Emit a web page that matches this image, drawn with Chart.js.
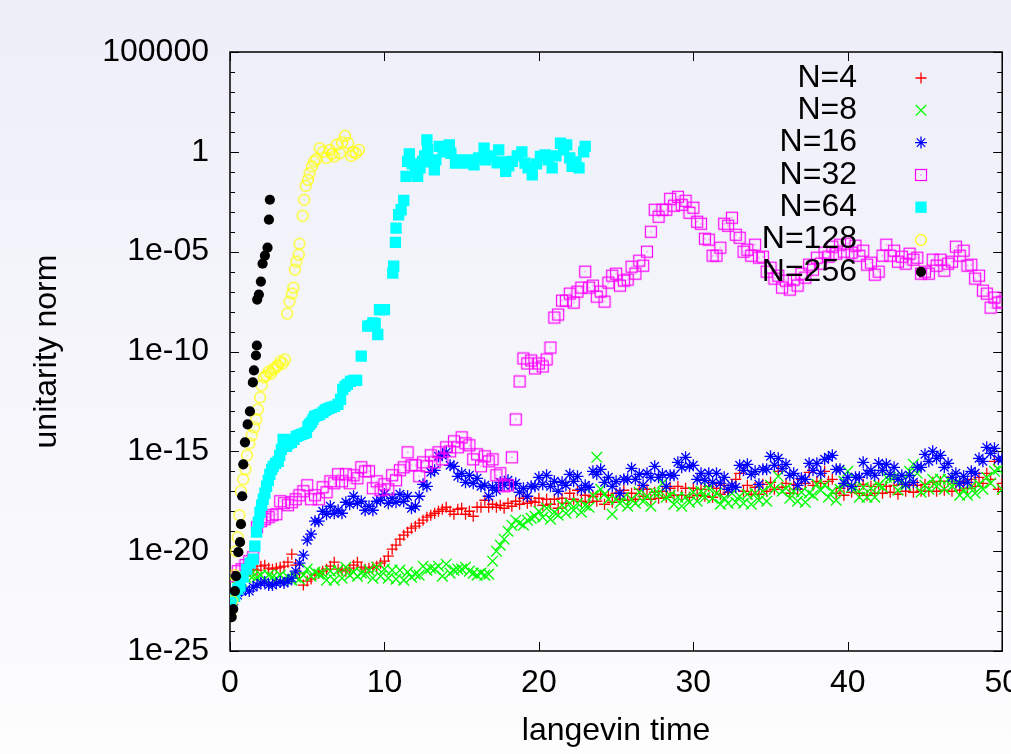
<!DOCTYPE html>
<html>
<head>
<meta charset="utf-8">
<title>unitarity norm vs langevin time</title>
<script src="https://cdn.jsdelivr.net/npm/chart.js"></script>
<style>
  html, body { margin: 0; padding: 0; background: #fff; }
  #wrap { width: 1011px; height: 754px; }
</style>
</head>
<body>
<div id="wrap"><canvas id="c" width="1011" height="754"></canvas></div>
<script>
/* globals Chart */

// langevin time grid shared by N=4..32
var timeGrid = [
  0, 0.25, 0.5, 0.75, 1, 1.25, 1.5, 1.75, 2, 2.25, 2.5, 2.75, 3, 3.25, 3.5, 3.75, 4, 4.25, 4.5, 4.75,
  5, 5.25, 5.5, 5.75, 6, 6.25, 6.5, 6.75, 7, 7.25, 7.5, 7.75, 8, 8.25, 8.5, 8.75, 9, 9.25, 9.5, 9.75,
  10, 10.25, 10.5, 10.75, 11, 11.25, 11.5, 11.75, 12, 12.25, 12.5, 12.75, 13, 13.25, 13.5, 13.75, 14, 14.25, 14.5, 14.75,
  15, 15.25, 15.5, 15.75, 16, 16.25, 16.5, 16.75, 17, 17.25, 17.5, 17.75, 18, 18.25, 18.5, 18.75, 19, 19.25, 19.5, 19.75,
  20, 20.25, 20.5, 20.75, 21, 21.25, 21.5, 21.75, 22, 22.25, 22.5, 22.75, 23, 23.25, 23.5, 23.75, 24, 24.25, 24.5, 24.75,
  25, 25.25, 25.5, 25.75, 26, 26.25, 26.5, 26.75, 27, 27.25, 27.5, 27.75, 28, 28.25, 28.5, 28.75, 29, 29.25, 29.5, 29.75,
  30, 30.25, 30.5, 30.75, 31, 31.25, 31.5, 31.75, 32, 32.25, 32.5, 32.75, 33, 33.25, 33.5, 33.75, 34, 34.25, 34.5, 34.75,
  35, 35.25, 35.5, 35.75, 36, 36.25, 36.5, 36.75, 37, 37.25, 37.5, 37.75, 38, 38.25, 38.5, 38.75, 39, 39.25, 39.5, 39.75,
  40, 40.25, 40.5, 40.75, 41, 41.25, 41.5, 41.75, 42, 42.25, 42.5, 42.75, 43, 43.25, 43.5, 43.75, 44, 44.25, 44.5, 44.75,
  45, 45.25, 45.5, 45.75, 46, 46.25, 46.5, 46.75, 47, 47.25, 47.5, 47.75, 48, 48.25, 48.5, 48.75, 49, 49.25, 49.5, 49.75,
  50
];

// log10(unitarity norm), one value per timeGrid entry
var n4Log = [
  -22.8, -22.3, -21.8, -21.4, -21.2, -21.0, -20.9, -20.95, -20.75, -20.7, -20.85, -20.9, -20.85, -20.8, -20.75, -20.55, -20.15, -20.7, -21.1, -21.7,
  -21.5, -21.4, -21.2, -21.1, -21.0, -20.9, -20.75, -20.55, -20.9, -20.95, -21.0, -20.85, -20.7, -20.55, -20.8, -20.9, -20.85, -20.8, -20.75, -20.6,
  -20.5, -20.25, -19.9, -19.7, -19.4, -19.2, -19.05, -18.85, -18.75, -18.6, -18.45, -18.3, -18.2, -18.1, -18.0, -17.9, -17.8, -18.0, -18.15, -17.9,
  -17.85, -18.15, -18.0, -18.25, -17.8, -17.8, -17.45, -17.8, -17.65, -17.8, -17.7, -17.85, -17.6, -17.75, -17.5, -17.65, -17.35, -17.6, -17.5, -17.55,
  -17.35, -17.7, -17.4, -17.65, -17.4, -17.85, -17.35, -17.6, -17.1, -17.4, -16.95, -17.5, -17.2, -17.55, -17.25, -17.5, -17.15, -17.65, -17.2, -17.55,
  -17.1, -17.4, -16.95, -17.45, -17.1, -17.4, -16.9, -17.25, -16.9, -17.4, -17.05, -17.35, -17.0, -17.3, -16.85, -17.2, -16.75, -17.2, -16.85, -17.3,
  -16.85, -17.2, -16.9, -17.25, -16.75, -17.3, -16.85, -17.15, -16.7, -17.05, -16.7, -16.4, -16.1, -17.0, -16.7, -17.15, -16.8, -17.15, -16.65, -17.0,
  -16.55, -16.9, -16.0, -16.8, -16.6, -17.1, -16.65, -16.9, -16.4, -16.6, -16.05, -16.7, -16.5, -16.6, -16.0, -16.5, -16.4, -17.1, -16.85, -17.2,
  -16.7, -17.05, -16.75, -17.1, -16.65, -17.2, -16.75, -17.1, -16.65, -17.1, -16.75, -17.05, -16.7, -17.15, -16.65, -17.0, -16.7, -17.05, -16.7, -17.0,
  -16.65, -17.0, -16.55, -17.0, -16.5, -16.95, -16.5, -17.0, -16.6, -16.95, -16.5, -16.85, -16.4, -16.75, -16.3, -16.6, -16.1, -16.4, -15.5, -16.9,
  -16.6
];

var n8Log = [
  -22.6, -22.2, -21.8, -21.5, -21.3, -21.2, -21.25, -21.3, -21.2, -21.4, -21.2, -21.3, -21.35, -21.2, -21.4, -21.3, -21.45, -21.3, -21.4, -21.2,
  -20.9, -21.25, -21.05, -21.15, -21.1, -21.45, -21.0, -21.45, -20.95, -21.35, -20.8, -21.2, -21.05, -21.25, -21.1, -21.15, -20.95, -21.35, -20.8, -21.25,
  -20.9, -21.35, -20.95, -21.4, -20.95, -21.45, -21.05, -21.3, -21.15, -21.2, -20.75, -20.95, -20.85, -20.9, -20.75, -21.25, -20.65, -21.1, -20.95, -20.9,
  -20.9, -20.8, -21.0, -21.1, -21.2, -21.1, -21.2, -21.15, -20.5, -20.0, -19.7, -19.4, -19.0, -18.7, -18.45, -18.6, -18.7, -18.45, -18.35, -18.25,
  -18.0, -18.3, -17.85, -18.4, -18.05, -18.2, -17.7, -18.1, -17.6, -17.95, -17.6, -18.05, -17.7, -17.8, -17.2, -15.3, -16.9, -17.15, -17.4, -18.15,
  -17.4, -17.6, -17.3, -17.75, -17.4, -17.6, -17.05, -17.5, -17.25, -17.75, -17.1, -17.1, -16.6, -17.3, -17.2, -17.65, -17.3, -17.75, -17.3, -17.55,
  -17.05, -17.5, -17.0, -17.3, -16.85, -17.35, -17.1, -17.65, -17.35, -17.6, -17.1, -17.55, -17.25, -17.6, -17.15, -17.65, -17.1, -17.45, -17.0, -17.5,
  -16.7, -16.9, -16.25, -17.0, -16.85, -17.35, -17.0, -17.5, -17.05, -17.55, -17.1, -17.2, -16.65, -16.95, -16.7, -17.3, -17.0, -17.45, -16.9, -16.5,
  -16.0, -16.8, -16.85, -17.3, -16.8, -17.3, -16.85, -17.3, -16.7, -16.8, -16.3, -16.3, -16.3, -16.95, -16.5, -16.7, -16.0, -15.65, -16.1, -17.05,
  -16.7, -16.9, -16.4, -16.75, -16.4, -16.9, -16.4, -16.75, -16.6, -17.2, -16.95, -17.2, -16.75, -17.1, -16.65, -16.9, -16.3, -16.6, -16.0, -15.9,
  -16.9
];

var n16Log = [
  -22.9, -22.5, -22.2, -22.0, -21.95, -22.0, -21.8, -21.7, -21.6, -21.55, -21.7, -21.7, -21.6, -21.55, -21.6, -21.5, -21.35, -21.0, -20.6, -20.2,
  -19.45, -19.15, -18.5, -18.5, -18.0, -18.15, -17.75, -18.1, -17.95, -18.1, -17.55, -17.65, -17.25, -17.6, -17.5, -17.95, -17.75, -17.95, -17.5, -17.45,
  -17.15, -17.6, -17.35, -17.55, -17.15, -17.5, -17.25, -17.85, -17.75, -17.25, -16.65, -16.75, -16.05, -15.95, -15.25, -15.2, -15.05, -15.7, -15.75, -16.25,
  -16.1, -16.55, -16.2, -16.6, -16.35, -16.75, -16.7, -17.25, -16.8, -16.95, -16.55, -16.7, -16.45, -16.7, -16.6, -17.05, -16.85, -17.25, -16.75, -16.75,
  -16.3, -16.65, -16.2, -16.75, -16.5, -17.0, -16.55, -16.7, -16.15, -16.5, -16.25, -16.9, -16.7, -16.8, -16.0, -16.15, -15.9, -16.55, -16.3, -16.75,
  -16.5, -17.1, -16.4, -16.4, -15.85, -16.4, -16.15, -16.7, -16.1, -16.3, -15.75, -16.3, -16.15, -16.75, -16.2, -16.2, -15.55, -15.8, -15.3, -15.75,
  -15.7, -16.4, -16.1, -16.45, -16.1, -16.55, -16.1, -16.6, -16.3, -16.9, -16.7, -16.8, -15.7, -15.95, -15.65, -16.15, -16.0, -16.65, -15.9, -15.9,
  -15.25, -15.7, -15.35, -15.85, -15.65, -16.2, -16.1, -16.7, -16.35, -16.4, -15.6, -15.95, -15.6, -16.1, -15.4, -15.3, -15.2, -15.9, -15.9, -16.6,
  -16.3, -16.75, -16.3, -16.3, -15.55, -16.1, -15.95, -16.2, -15.6, -15.95, -15.65, -16.15, -15.8, -16.4, -16.2, -16.65, -16.2, -16.55, -15.8, -15.8,
  -15.15, -15.5, -15.0, -15.35, -15.2, -15.8, -15.6, -16.3, -16.1, -16.6, -16.25, -16.55, -16.0, -16.1, -15.35, -15.5, -14.8, -15.1, -14.85, -15.4,
  -15.4
];

var n32Log = [
  -22.7, -21.8, -21.0, -20.9, -20.7, -20.5, -20.3, -18.8, -18.5, -18.4, -18.3, -18.2, -18.15, -17.5, -17.6, -17.7, -17.55, -17.4, -17.2, -17.0,
  -16.7, -17.4, -17.2, -17.4, -16.8, -17.05, -16.5, -16.6, -16.15, -16.5, -16.15, -16.6, -16.2, -16.35, -15.8, -16.0, -16.0, -16.85, -16.5, -16.95,
  -16.65, -16.9, -16.2, -16.45, -15.95, -15.8, -15.05, -15.7, -15.7, -16.25, -15.55, -15.75, -15.2, -15.55, -15.05, -15.4, -14.8, -15.0, -14.5, -14.8,
  -14.3, -14.6, -14.7, -15.4, -15.15, -15.75, -15.25, -15.5, -15.4, -16.2, -16.1, -16.75, -16.7, -15.3, -13.4, -11.5, -10.35, -10.6, -10.45, -10.85,
  -10.6, -10.75, -10.4, -9.8, -8.3, -8.15, -7.45, -7.45, -7.1, -7.55, -7.0, -6.8, -6.0, -6.8, -6.7, -7.25, -7.0, -7.5, -6.55, -6.2,
  -6.1, -6.7, -6.45, -6.4, -5.75, -6.1, -5.45, -5.7, -5.0, -4.0, -2.9, -3.25, -2.9, -2.9, -2.35, -2.7, -2.25, -2.65, -2.45, -3.05,
  -2.8, -3.5, -3.6, -4.35, -4.4, -5.2, -5.2, -4.8, -3.6, -3.7, -3.3, -4.15, -4.3, -5.0, -4.9, -5.2, -4.65, -5.3, -5.25, -6.0,
  -5.8, -6.35, -6.2, -6.8, -6.45, -6.9, -6.4, -6.7, -6.1, -6.3, -5.65, -5.9, -5.3, -5.6, -5.05, -5.25, -4.75, -5.1, -4.65, -5.0,
  -4.6, -5.05, -4.7, -5.2, -4.95, -5.65, -5.55, -6.15, -6.0, -5.2, -4.65, -5.2, -4.95, -5.5, -5.25, -5.6, -5.1, -5.4, -5.3, -6.1,
  -6.0, -6.1, -5.4, -5.7, -5.4, -5.95, -5.6, -5.5, -4.75, -5.2, -4.95, -5.7, -5.65, -6.35, -6.2, -6.95, -7.1, -7.8, -7.3, -7.55,
  -7.5
];

// [langevin time, log10(unitarity norm)] for the runs with their own sampling
var n64Pts = [
  [0.0, -22.9], [0.1, -22.6], [0.3, -22.25], [0.5, -21.9], [0.65, -21.75], [0.85, -21.3], [1.08, -20.9], [1.3, -20.6],
  [1.5, -20.4], [1.61, -19.75], [1.72, -19.05], [1.83, -18.55], [1.94, -18.05], [2.05, -17.7], [2.15, -17.4], [2.26, -17.1],
  [2.37, -16.75], [2.48, -16.45], [2.58, -16.15], [2.7, -15.9], [2.8, -15.75], [2.95, -15.6], [3.12, -15.5], [3.22, -15.2],
  [3.33, -14.9], [3.44, -14.4], [3.55, -14.6], [3.66, -14.75], [3.8, -14.6], [3.98, -14.55], [4.15, -14.4], [4.3, -14.25],
  [4.45, -14.2], [4.63, -14.15], [4.8, -14.1], [4.95, -14.05], [5.05, -13.75], [5.15, -13.65], [5.27, -13.55], [5.38, -13.4],
  [5.48, -13.25], [5.65, -13.2], [5.8, -13.15], [6.02, -13.05], [6.15, -12.95], [6.24, -12.9], [6.4, -12.85], [6.56, -12.8],
  [6.77, -12.75], [6.99, -12.65], [7.16, -12.4], [7.3, -11.9], [7.45, -11.75], [7.6, -11.65], [7.8, -11.5], [8.0, -11.45],
  [8.2, -11.45], [8.5, -10.23], [8.92, -8.73], [9.1, -8.7], [9.25, -8.57], [9.4, -8.6], [9.57, -9.15], [9.68, -7.9],
  [9.85, -7.9], [10.0, -7.9], [10.54, -6.07], [10.6, -5.73], [10.71, -4.53], [10.75, -3.82], [10.92, -3.15], [11.08, -2.9],
  [11.25, -2.43], [11.4, -1.23], [11.5, -0.48], [11.61, -0.1], [11.8, -0.6], [12.0, -1.0], [12.15, -1.23], [12.3, -0.8],
  [12.47, -0.48], [12.6, -0.2], [12.75, 0.6], [12.8, 0.1], [13.0, -0.5], [13.23, -0.9], [13.33, -0.4], [13.55, 0.27],
  [13.8, 0.0], [14.0, 0.2], [14.2, 0.35], [14.3, -0.07], [14.6, -0.57], [14.9, -0.4], [15.27, -0.57], [15.5, -0.4],
  [15.8, -0.65], [16.1, -0.3], [16.45, 0.18], [16.56, -0.4], [16.9, -0.2], [17.3, -0.55], [17.4, 0.1], [17.6, -0.5],
  [17.85, -0.98], [18.05, -0.7], [18.28, -0.48], [18.6, -0.2], [18.9, 0.0], [19.1, -0.57], [19.3, -0.8], [19.57, -1.15],
  [19.85, -0.6], [20.1, -0.23], [20.4, -0.15], [20.6, -0.4], [20.86, -0.8], [21.1, -0.2], [21.4, 0.43], [21.6, 0.1],
  [21.8, 0.35], [22.0, -0.3], [22.15, -0.73], [22.4, -0.5], [22.6, -0.8], [22.9, 0.0], [23.0, 0.27]
];

var n128Pts = [
  [0.05, -23.0], [0.15, -22.5], [0.3, -21.2], [0.4, -20.0], [0.5, -19.3], [0.6, -18.2], [0.7, -17.0], [0.85, -16.4],
  [1.0, -15.9], [1.1, -15.2], [1.25, -14.6], [1.4, -14.2], [1.55, -13.8], [1.7, -13.4], [1.8, -12.9], [1.95, -12.3],
  [2.05, -11.7], [2.2, -11.3], [2.35, -11.2], [2.5, -11.0], [2.65, -11.1], [2.8, -10.9], [2.95, -10.8], [3.1, -10.7],
  [3.25, -10.5], [3.4, -10.6], [3.55, -10.4], [3.7, -8.1], [3.85, -7.5], [4.0, -7.1], [4.1, -6.8], [4.2, -5.9],
  [4.3, -5.5], [4.45, -5.15], [4.5, -4.6], [4.7, -3.2], [4.8, -2.4], [4.9, -1.7], [5.05, -1.4], [5.15, -1.07],
  [5.3, -0.73], [5.45, -0.48], [5.6, -0.37], [5.8, 0.18], [6.0, 0.0], [6.25, -0.3], [6.45, 0.1], [6.6, -0.1],
  [6.75, -0.23], [6.9, 0.35], [7.1, -0.07], [7.25, 0.47], [7.45, 0.8], [7.65, 0.43], [7.85, -0.2], [7.95, 0.0],
  [8.15, -0.07], [8.35, 0.1]
];

var n256Pts = [
  [0.11, -23.3], [0.21, -22.9], [0.32, -22.0], [0.39, -21.25], [0.54, -20.05], [0.65, -19.55], [0.71, -18.65], [0.79, -17.25],
  [0.86, -15.65], [0.97, -14.55], [1.14, -13.65], [1.29, -13.0], [1.48, -11.55], [1.55, -10.95], [1.68, -10.2], [1.74, -9.7],
  [1.76, -7.4], [1.87, -7.15], [2.0, -6.5], [2.11, -5.6], [2.26, -5.2], [2.43, -4.8], [2.52, -3.4], [2.58, -2.4]
];

var seriesLabels = ['N=4', 'N=8', 'N=16', 'N=32', 'N=64', 'N=128', 'N=256'];
var xTickValues = [0, 10, 20, 30, 40, 50];
var yTickValues = [1e-25, 1e-20, 1e-15, 1e-10, 1e-5, 1, 1e5];
var yTickLabels = ['1e-25', '1e-20', '1e-15', '1e-10', '1e-05', '1', '100000'];

var FONT = '"Liberation Sans", Arial, Helvetica, sans-serif';

var fromGrid = vals => vals.map((v, i) => ({x: timeGrid[i], y: Math.pow(10, v)}));
var fromPairs = pts => pts.map(p => ({x: p[0], y: Math.pow(10, p[1])}));

// gnuplot style open marker with a dot in the middle
function dottedMarker(color, shape) {
  var c = document.createElement('canvas');
  c.width = 14;
  c.height = 14;
  var g = c.getContext('2d');
  g.strokeStyle = color;
  g.fillStyle = color;
  g.lineWidth = 1.2;
  if (shape === 'square') {
    g.strokeRect(1.5, 1.5, 11, 11);
  } else {
    g.beginPath();
    g.arc(7, 7, 5.4, 0, Math.PI * 2);
    g.stroke();
  }
  g.fillRect(6.5, 6.5, 1, 1);
  return c;
}

var datasets = [
  {label: seriesLabels[0], data: fromGrid(n4Log), pointStyle: 'cross', pointRadius: 5.5, borderColor: '#ff0000', backgroundColor: '#ff0000', borderWidth: 1.3, order: 6},
  {label: seriesLabels[1], data: fromGrid(n8Log), pointStyle: 'crossRot', pointRadius: 7.5, borderColor: '#00ff00', backgroundColor: '#00ff00', borderWidth: 1.3, order: 5},
  {label: seriesLabels[2], data: fromGrid(n16Log), pointStyle: 'star', pointRadius: 6, borderColor: '#0000ff', backgroundColor: '#0000ff', borderWidth: 1.3, order: 4},
  {label: seriesLabels[3], data: fromGrid(n32Log), pointStyle: dottedMarker('#ff00ff', 'square'), pointRadius: 5, borderColor: '#ff00ff', backgroundColor: '#ff00ff', borderWidth: 1, order: 3},
  {label: seriesLabels[4], data: fromPairs(n64Pts), pointStyle: 'rect', pointRadius: 8, borderColor: '#00ffff', backgroundColor: '#00ffff', borderWidth: 0, order: 2},
  {label: seriesLabels[5], data: fromPairs(n128Pts), pointStyle: dottedMarker('#ffff00', 'circle'), pointRadius: 5, borderColor: '#ffff00', backgroundColor: '#ffff00', borderWidth: 1, order: 1},
  {label: seriesLabels[6], data: fromPairs(n256Pts), pointStyle: 'circle', pointRadius: 5.1, borderColor: '#000000', backgroundColor: '#000000', borderWidth: 0, order: 0}
];

// legend sample, same shapes as chart.js draws them
function drawSample(ctx, ds, x, y) {
  var s = ds.pointStyle, r = ds.pointRadius;
  ctx.save();
  ctx.strokeStyle = ds.borderColor;
  ctx.fillStyle = ds.backgroundColor;
  ctx.lineWidth = ds.borderWidth || 1;
  if (typeof s === 'object') {
    ctx.drawImage(s, Math.round(x - s.width / 2), Math.round(y - s.height / 2));
  } else if (s === 'circle') {
    ctx.beginPath();
    ctx.arc(x, y, r, 0, Math.PI * 2);
    ctx.fill();
  } else if (s === 'rect') {
    var h = r * Math.SQRT1_2;
    ctx.fillRect(x - h, y - h, 2 * h, 2 * h);
  } else {
    ctx.beginPath();
    if (s !== 'crossRot') {
      ctx.moveTo(x - r, y); ctx.lineTo(x + r, y);
      ctx.moveTo(x, y - r); ctx.lineTo(x, y + r);
    }
    if (s !== 'cross') {
      var d = r * Math.SQRT1_2;
      ctx.moveTo(x - d, y - d); ctx.lineTo(x + d, y + d);
      ctx.moveTo(x - d, y + d); ctx.lineTo(x + d, y - d);
    }
    ctx.stroke();
  }
  ctx.restore();
}

var backdrop = {
  id: 'backdrop',
  beforeDraw(chart) {
    var ctx = chart.ctx;
    var grad = ctx.createLinearGradient(0, 0, 0, chart.height);
    grad.addColorStop(0, '#eeeef9');
    grad.addColorStop(1, '#fdfdfe');
    ctx.save();
    ctx.fillStyle = grad;
    ctx.fillRect(0, 0, chart.width, chart.height);
    ctx.restore();
  }
};

// border with inward ticks on all four sides, like gnuplot
var frame = {
  id: 'frame',
  beforeDatasetsDraw(chart) {
    var a = chart.chartArea, ctx = chart.ctx, xs = chart.scales.x, ys = chart.scales.y;
    ctx.save();
    ctx.strokeStyle = '#000';
    ctx.lineWidth = 1.5;
    ctx.strokeRect(a.left, a.top, a.right - a.left, a.bottom - a.top);
    ctx.lineWidth = 1;
    ctx.beginPath();
    xTickValues.forEach(v => {
      var px = Math.round(xs.getPixelForValue(v)) + 0.5;
      ctx.moveTo(px, a.bottom); ctx.lineTo(px, a.bottom - 9);
      ctx.moveTo(px, a.top); ctx.lineTo(px, a.top + 9);
    });
    for (var e = -25; e <= 5; e++) {
      var py = Math.round(ys.getPixelForValue(Math.pow(10, e))) + 0.5;
      var len = e % 5 === 0 ? 9 : 5;
      ctx.moveTo(a.left, py); ctx.lineTo(a.left + len, py);
      ctx.moveTo(a.right, py); ctx.lineTo(a.right - len, py);
    }
    ctx.stroke();
    ctx.restore();
  }
};

// key in the top right corner: text right aligned, sample to its right
var key = {
  id: 'key',
  afterDatasetsDraw(chart) {
    var ctx = chart.ctx;
    ctx.save();
    ctx.font = '32px ' + FONT;
    ctx.fillStyle = '#000';
    ctx.textAlign = 'right';
    ctx.textBaseline = 'middle';
    chart.data.datasets.forEach((ds, i) => {
      var y = 78 + i * 32.3;
      ctx.fillText(ds.label, 857, y);
      drawSample(ctx, ds, 921, y);
    });
    ctx.restore();
  }
};

var chart = new Chart(document.getElementById('c'), {
  type: 'scatter',
  data: {datasets: datasets},
  plugins: [backdrop, frame, key],
  options: {
    responsive: false,
    animation: false,
    events: [],
    layout: {padding: {top: 52, right: 7, bottom: 0, left: 0}},
    plugins: {legend: {display: false}, tooltip: {enabled: false}},
    scales: {
      x: {
        type: 'linear',
        min: 0,
        max: 50,
        grid: {display: false, drawTicks: false},
        border: {display: false},
        afterBuildTicks: scale => { scale.ticks = xTickValues.map(v => ({value: v})); },
        afterFit: scale => {
          scale.height = 103;
          scale.paddingLeft = 0;
          scale.paddingRight = 0;
        },
        ticks: {
          color: '#000',
          font: {family: FONT, size: 32},
          padding: 13,
          maxRotation: 0,
          minRotation: 0,
          autoSkip: false
        },
        title: {
          display: true,
          text: 'langevin time',
          color: '#000',
          font: {family: FONT, size: 32},
          padding: {top: 0, bottom: 4}
        }
      },
      y: {
        type: 'logarithmic',
        min: 1e-25,
        max: 1e5,
        grid: {display: false, drawTicks: false},
        border: {display: false},
        afterBuildTicks: scale => { scale.ticks = yTickValues.map(v => ({value: v})); },
        afterFit: scale => {
          scale.width = 230;
          scale.paddingTop = 0;
          scale.paddingBottom = 0;
        },
        ticks: {
          color: '#000',
          font: {family: FONT, size: 32},
          padding: 21,
          autoSkip: false,
          callback: v => {
            var i = yTickValues.indexOf(v);
            return i < 0 ? '' : yTickLabels[i];
          }
        },
        title: {
          display: true,
          text: 'unitarity norm',
          color: '#000',
          font: {family: FONT, size: 32},
          padding: {top: 28, bottom: 0}
        }
      }
    }
  }
});
</script>
</body>
</html>
